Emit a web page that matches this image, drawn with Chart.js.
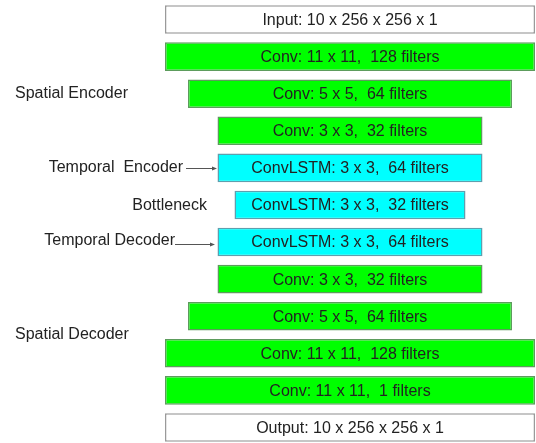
<!DOCTYPE html>
<html>
<head>
<meta charset="utf-8">
<script src="https://cdn.jsdelivr.net/npm/chart.js@4"></script>
<style>
  html, body { margin: 0; padding: 0; background: #fff; overflow: hidden; }
  #wrap { width: 536px; height: 446px; }
</style>
</head>
<body>
<div id="wrap"><canvas id="net"></canvas></div>
<script>
// Các tầng của mạng (từ trên xuống)
const layerNames = [
    'Input: 10 x 256 x 256 x 1',
    'Conv: 11 x 11,  128 filters',
    'Conv: 5 x 5,  64 filters',
    'Conv: 3 x 3,  32 filters',
    'ConvLSTM: 3 x 3,  64 filters',
    'ConvLSTM: 3 x 3,  32 filters',
    'ConvLSTM: 3 x 3,  64 filters',
    'Conv: 3 x 3,  32 filters',
    'Conv: 5 x 5,  64 filters',
    'Conv: 11 x 11,  128 filters',
    'Conv: 11 x 11,  1 filters',
    'Output: 10 x 256 x 256 x 1'
];

// Độ rộng mỗi khối
const layerWidths = [370, 370, 324, 265, 265, 231, 265, 265, 324, 370, 370, 370];

// Loại khối: io / conv / lstm
const layerKinds = ['io', 'conv', 'conv', 'conv', 'lstm', 'lstm', 'lstm', 'conv', 'conv', 'conv', 'conv', 'io'];

// Nhãn bên trái: [chữ, hàng]
const sideLabels = [
    ['Spatial Encoder', 2.0],
    ['Temporal  Encoder', 3.98],
    ['Bottleneck', 5.03],
    ['Temporal Decoder', 5.97],
    ['Spatial Decoder', 8.5]
];

const fillColors = { io: '#ffffff', conv: '#00ff00', lstm: '#00ffff' };
const edgeColors = { io: '#9a9a9a', conv: '#5c9c5c', lstm: '#5e9fae' };

// Plugin vẽ chữ trong khối + nhãn + mũi tên
const diagramPlugin = {
    id: 'diagram',
    afterDatasetsDraw(chart) {
        const ctx = chart.ctx;
        const meta = chart.getDatasetMeta(0);
        const yScale = chart.scales.y;
        ctx.save();
        ctx.font = '16px "Liberation Sans", Arial, sans-serif';
        ctx.fillStyle = '#222';
        ctx.textAlign = 'center';
        ctx.textBaseline = 'middle';
        meta.data.forEach((bar, i) => {
            const left = Math.min(bar.x, bar.base);
            const right = Math.max(bar.x, bar.base);
            ctx.fillText(layerNames[i], (left + right) / 2, bar.y + 1);
        });

        // Nhãn bên trái
        const pos = {
            'Spatial Encoder': ['left', 15],
            'Temporal  Encoder': ['right', 183],
            'Bottleneck': ['right', 207],
            'Temporal Decoder': ['right', 175],
            'Spatial Decoder': ['left', 15]
        };
        sideLabels.forEach(([text, row]) => {
            ctx.textAlign = pos[text][0];
            ctx.fillText(text, pos[text][1], yScale.getPixelForValue(row));
        });

        // Mũi tên
        ctx.strokeStyle = '#555';
        ctx.fillStyle = '#555';
        ctx.lineWidth = 1;
        const arrows = [[186, 4, 217], [175, 6.05, 215]];
        arrows.forEach(([x0, row, x1]) => {
            const y = Math.round(yScale.getPixelForValue(row)) + 0.5;
            ctx.beginPath();
            ctx.moveTo(x0, y);
            ctx.lineTo(x1 - 3, y);
            ctx.stroke();
            ctx.beginPath();
            ctx.moveTo(x1, y);
            ctx.lineTo(x1 - 5, y - 2);
            ctx.lineTo(x1 - 5, y + 2);
            ctx.closePath();
            ctx.fill();
        });
        ctx.restore();
    }
};

new Chart(document.getElementById('net'), {
    type: 'bar',
    data: {
        labels: layerNames,
        datasets: [{
            data: layerWidths.map(w => [-w / 2, w / 2]),
            backgroundColor: layerKinds.map(k => fillColors[k]),
            borderColor: layerKinds.map(k => edgeColors[k]),
            borderWidth: 1.5,
            borderSkipped: false,
            barPercentage: 0.77,
            categoryPercentage: 1
        }]
    },
    options: {
        indexAxis: 'y',
        responsive: true,
        maintainAspectRatio: false,
        animation: false,
        layout: { padding: { top: 1, bottom: 0, left: 0, right: 0 } },
        plugins: {
            legend: { display: false },
            tooltip: { enabled: false }
        },
        scales: {
            x: { type: 'linear', min: -350, max: 186, display: false },
            y: { display: false }
        }
    },
    plugins: [diagramPlugin]
});
</script>
</body>
</html>
